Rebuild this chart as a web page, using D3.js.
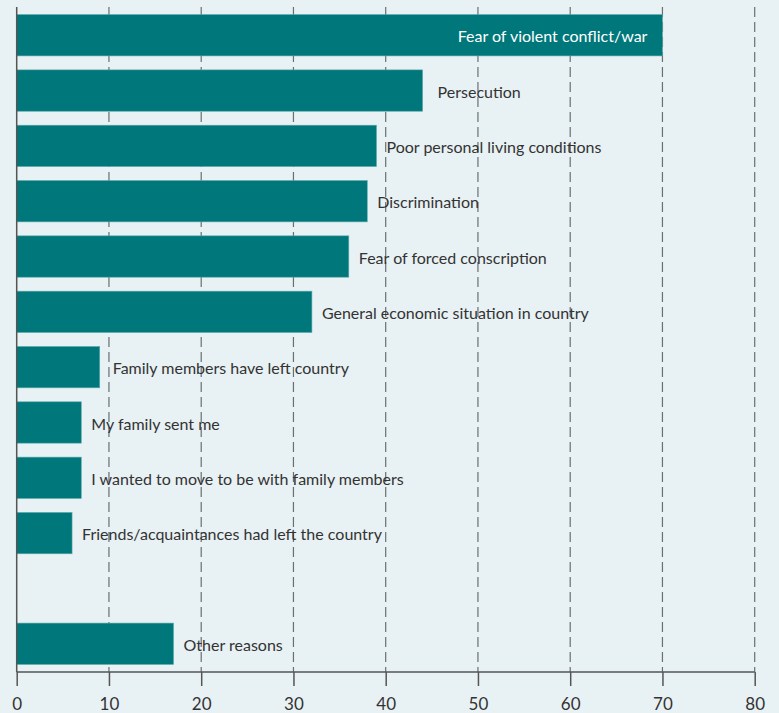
<!DOCTYPE html>
<html><head><meta charset="utf-8">
<script src="https://cdn.jsdelivr.net/npm/d3@7"></script>
<style>
html,body{margin:0;padding:0;background:#e8f1f3;}
svg{display:block;}
text{font-family:Lato,"Open Sans",sans-serif;}
</style></head>
<body>
<script>
const categories = [
  "Fear of violent conflict/war",
  "Persecution",
  "Poor personal living conditions",
  "Discrimination",
  "Fear of forced conscription",
  "General economic situation in country",
  "Family members have left country",
  "My family sent me",
  "I wanted to move to be with family members",
  "Friends/acquaintances had left the country",
  "",
  "Other reasons"
];
const values = [70, 44, 39, 38, 36, 32, 9, 7, 7, 6, null, 17];
const xTicks = [0, 10, 20, 30, 40, 50, 60, 70, 80];

const W = 779, H = 713;
const svg = d3.select("body").append("svg").attr("width", W).attr("height", H);
svg.append("rect").attr("width", W).attr("height", H).attr("fill", "#e8f1f3");

const x = d3.scaleLinear().domain([0, 80]).range([16.7, 754.7]);
const bands = categories.map((c, i) => "b" + i);
const y = d3.scaleBand().domain(bands).range([7, 672]).paddingInner(0.253).paddingOuter(0.137);

// gridlines
svg.append("g").selectAll("line").data(xTicks.filter(t => t > 0)).join("line")
  .attr("x1", d => x(d)).attr("x2", d => x(d))
  .attr("y1", 7).attr("y2", 672)
  .attr("stroke", "#6a6f72").attr("stroke-width", 1.2).attr("stroke-dasharray", "10,5");

// bars
const data = categories.map((c, i) => ({c, v: values[i], k: bands[i]})).filter(d => d.v != null);
svg.append("g").selectAll("rect").data(data).join("rect")
  .attr("x", x(0)).attr("y", d => y(d.k))
  .attr("width", d => x(d.v) - x(0)).attr("height", y.bandwidth())
  .attr("fill", "#00777a").attr("stroke", "#5aa9ab").attr("stroke-width", 0.6);

// labels
const extraGap = {"Persecution": 15, "Family members have left country": 13};
svg.append("g").selectAll("text").data(data).join("text")
  .attr("x", (d, i) => i === 0 ? x(d.v) - 15 : x(d.v) + (extraGap[d.c] || 10))
  .attr("y", d => y(d.k) + y.bandwidth() / 2 + 1.5)
  .attr("dy", "0.35em")
  .attr("text-anchor", (d, i) => i === 0 ? "end" : "start")
  .attr("fill", (d, i) => i === 0 ? "#ffffff" : "#333333")
  .attr("font-size", 16)
  .text(d => d.c);

// axis
const ax = svg.append("g").attr("transform", "translate(0,672)")
  .call(d3.axisBottom(x).tickValues(xTicks).tickSize(14).tickPadding(12));
ax.select(".domain").attr("stroke", "#555").attr("stroke-width", 1.5).attr("d", `M${x(0)},0H${x(80)}`);
ax.selectAll(".tick line").attr("stroke", "#555").attr("stroke-width", 1.5);
ax.selectAll(".tick text").attr("font-size", 17).attr("fill", "#333").attr("font-family", "Lato,'Open Sans',sans-serif");

// left axis line
svg.append("line").attr("x1", x(0)).attr("x2", x(0)).attr("y1", 7).attr("y2", 672)
  .attr("stroke", "#555").attr("stroke-width", 1.5);
</script>
</body></html>
